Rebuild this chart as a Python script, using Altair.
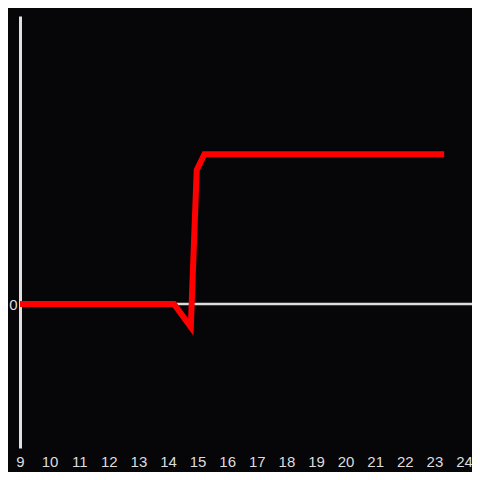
import altair as alt
import pandas as pd

xs = [9, 14.2, 14.77, 14.97, 15.23, 23.33]
ys = [0, 0, -0.16, 0.93, 1.04, 1.04]
x_ticks = list(range(9, 25))

df = pd.DataFrame({"x": xs, "y": ys, "order": list(range(len(xs)))})

W, H = 444, 432
xscale = alt.Scale(domain=[9, 24], nice=False, zero=False)
yscale = alt.Scale(domain=[-1, 2], nice=False)

zero = alt.Chart(pd.DataFrame({"y": [0]})).mark_rule(
    color="#dddddd", strokeWidth=2.5, clip=False
).encode(
    y=alt.Y("y:Q", scale=yscale),
    x=alt.value(0),
    x2=alt.value(W + 8),
)

line = alt.Chart(df).mark_line(
    color="#ff0000", strokeWidth=6, strokeCap="butt", strokeJoin="miter"
).encode(
    x=alt.X("x:Q", scale=xscale, title=None,
            axis=alt.Axis(values=x_ticks, format="d", domain=False, ticks=False, grid=False,
                          labelColor="#dddddd", labelFontSize=15, labelPadding=6,
                          labelFont="Liberation Sans", labelFlush=False)),
    y=alt.Y("y:Q", scale=yscale, title=None,
            axis=alt.Axis(values=[0], format="d", domain=True, domainColor="#e0e0e0",
                          domainWidth=3, ticks=False, grid=False, labelColor="#dddddd",
                          labelFontSize=15, labelPadding=3,
                          labelFont="Liberation Sans")),
    order="order:Q",
)

chart = alt.layer(zero, line).properties(
    width=W, height=H, background="#060508",
    padding={"left": 12, "top": 8, "right": 8, "bottom": 24},
    autosize=alt.AutoSizeParams(type="none"),
).configure_view(stroke=None)

chart.save("out.html", embed_options={"renderer": "svg", "actions": False})
